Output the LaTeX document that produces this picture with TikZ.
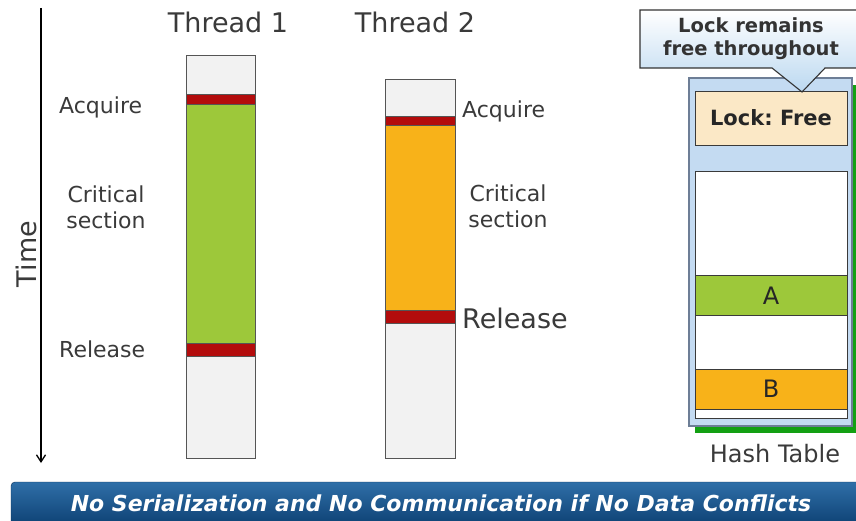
\documentclass[tikz,border=0pt]{standalone}
\usepackage{fontspec}
\setmainfont{DejaVu Sans}
\usetikzlibrary{arrows.meta}
\definecolor{barwhite}{HTML}{F2F2F2}
\definecolor{barred}{HTML}{B30C0C}
\definecolor{bargreen}{HTML}{9DC83A}
\definecolor{barorange}{HTML}{F8B219}
\definecolor{barline}{HTML}{555555}
\definecolor{txtgray}{HTML}{3A3A3A}
\definecolor{tblblue}{HTML}{C4DBF2}
\definecolor{tbledge}{HTML}{6D7E96}
\definecolor{lockfill}{HTML}{FBE8C6}
\definecolor{shadowgreen}{HTML}{13A013}
\definecolor{bannertop}{HTML}{2F6FA8}
\definecolor{bannerbot}{HTML}{0A3C6E}
\definecolor{calloutblue}{HTML}{BBD8F0}
\tikzset{
  seg/.style={draw=barline, line width=0.9pt},
  cell/.style={draw=txtgray, line width=0.9pt},
  lbl/.style={text=txtgray, font=\fontsize{22}{26}\selectfont, inner sep=0pt},
  title/.style={text=txtgray, font=\fontsize{27}{31}\selectfont, inner sep=0pt},
}
\begin{document}
\frenchspacing
\begin{tikzpicture}[x=1pt,y=-1pt]
\useasboundingbox (0,0) rectangle (856,521);
\fill[white] (0,0) rectangle (856,521);

% time axis
\coordinate (t0) at (41,8);
\coordinate (t1) at (41,463);
\draw[line width=1.3pt, -{Straight Barb[length=7pt,width=9pt]}] (t0) -- (t1);
\node[title, rotate=90] (time) at (26,254) {Time};

% thread 1
\node[title] (th1) at (228,22) {Thread 1};
\fill[barwhite] (186,55) rectangle (255,94);
\fill[barred] (186,94) rectangle (255,104);
\fill[bargreen] (186,104) rectangle (255,343);
\fill[barred] (186,343) rectangle (255,356);
\fill[barwhite] (186,356) rectangle (255,458);
\draw[seg] (186,94) -- (255,94) (186,104) -- (255,104) (186,343) -- (255,343) (186,356) -- (255,356);
\draw[seg] (186,55) rectangle (255,458);
\node[lbl, anchor=west] (acq1) at (59,107) {Acquire};
\node[lbl, align=center] (crit1) at (106,207) {Critical\\section};
\node[lbl, anchor=west] (rel1) at (59,349) {Release};

% thread 2
\node[title] (th2) at (415,22) {Thread 2};
\fill[barwhite] (385,79) rectangle (455,116);
\fill[barred] (385,116) rectangle (455,125);
\fill[barorange] (385,125) rectangle (455,310);
\fill[barred] (385,310) rectangle (455,323);
\fill[barwhite] (385,323) rectangle (455,458);
\draw[seg] (385,116) -- (455,116) (385,125) -- (455,125) (385,310) -- (455,310) (385,323) -- (455,323);
\draw[seg] (385,79) rectangle (455,458);
\node[lbl, anchor=west] (acq2) at (462,111) {Acquire};
\node[lbl, align=center] (crit2) at (508,206) {Critical\\section};
\node[lbl, anchor=west, font=\fontsize{27}{31}\selectfont] (rel2) at (462,318) {Release};

% hash table
\fill[shadowgreen] (695,85) rectangle (858,433);
\draw[fill=tblblue, draw=tbledge, line width=1.3pt] (689,78) rectangle (852,426);
\node[cell, fill=lockfill, minimum width=152pt, minimum height=54pt, inner sep=0pt,
      font=\bfseries\fontsize{21}{25}\selectfont, text=black!85] (lock) at (771,118) {Lock: Free};
\draw[cell, fill=white] (695,171) rectangle (847,418);
\draw[cell, fill=bargreen] (695,275) rectangle (847,315);
\draw[cell, fill=barorange] (695,369) rectangle (847,409);
\node[lbl, text=black!85, font=\fontsize{24}{28}\selectfont] (cellA) at (771,296) {A};
\node[lbl, text=black!85, font=\fontsize{24}{28}\selectfont] (cellB) at (771,389) {B};
\node[lbl, font=\fontsize{24}{28}\selectfont] (hash) at (775,454) {Hash Table};

% callout above the lock
\begin{scope}
\clip (0,0) rectangle (856,521);
\draw[top color=white, bottom color=calloutblue, draw=black!80, line width=1.1pt]
  (640,10) -- (870,10) -- (870,68) -- (825,68) -- (802,92) -- (772,68) -- (640,68) -- cycle;
\end{scope}
\node[align=center, inner sep=0pt, text=black!80, font=\bfseries\fontsize{19.5}{23}\selectfont] (callout) at (751,39) {Lock remains\\free throughout};

% banner
\begin{scope}
\clip (0,0) rectangle (856,521);
\draw[top color=bannertop, bottom color=bannerbot, draw=bannerbot!80!black, rounded corners=4pt]
  (11,482) rectangle (870,530);
\end{scope}
\node[text=white, inner sep=0pt, font=\bfseries\itshape\fontsize{22}{26}\selectfont] (banner) at (441,503)
  {No Serialization and No Communication if No Data Conflicts};
\end{tikzpicture}
\end{document}
